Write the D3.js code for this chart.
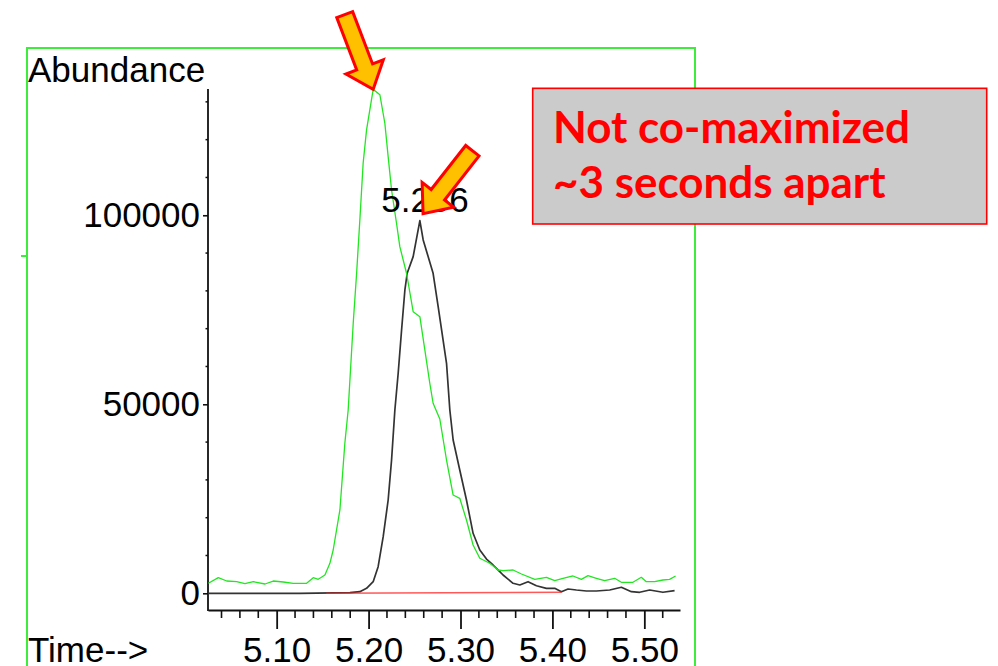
<!DOCTYPE html>
<html>
<head>
<meta charset="utf-8">
<script src="https://cdn.jsdelivr.net/npm/d3@7"></script>
<style>
  html, body { margin: 0; padding: 0; background: #fff; }
  svg { display: block; }
</style>
</head>
<body>
<svg id="chart" width="998" height="666"></svg>
<script>
// ---- data ----
const greenTime = [5.0257,5.0365,5.0457,5.0565,5.0655,5.0746,5.0873,5.0963,5.1072,5.1180,5.1326,5.1398,5.1452,5.1525,5.1579,5.1615,5.1688,5.1742,5.1778,5.1833,5.1870,5.1905,5.1941,5.1978,5.2050,5.2123,5.2177,5.2213,5.2250,5.2304,5.2340,5.2413,5.2485,5.2558,5.2612,5.2666,5.2702,5.2775,5.2848,5.2920,5.2992,5.3065,5.3137,5.3210,5.3318,5.3409,5.3463,5.3572,5.3663,5.3808,5.3935,5.4025,5.4115,5.4224,5.4315,5.4387,5.4478,5.4568,5.4677,5.4750,5.4876,5.4967,5.5022,5.5112,5.5202,5.5275,5.5340];
const greenAbund = [2650,4130,3250,3070,2540,3070,2460,3250,2990,2650,2650,4130,3700,4840,7940,11450,22040,39760,48490,71510,84740,98760,113840,122570,133300,131880,124340,115500,106690,97880,91690,84660,74500,73170,64370,55560,50270,46110,35260,26000,25130,19390,12780,9260,7940,6160,5980,6160,5110,3700,4230,3330,3970,4580,3700,4660,3970,3330,3970,2910,2910,4230,3070,3070,3520,3700,4580];

const blackTime = [5.0253,5.1253,5.1797,5.1905,5.1978,5.2050,5.2104,5.2159,5.2213,5.2250,5.2286,5.2322,5.2359,5.2395,5.2420,5.2485,5.2558,5.2594,5.2702,5.2757,5.2848,5.2884,5.2920,5.2992,5.3065,5.3137,5.3210,5.3283,5.3354,5.3427,5.3463,5.3572,5.3645,5.3735,5.3826,5.3935,5.4025,5.4098,5.4170,5.4261,5.4370,5.4478,5.4623,5.4750,5.4859,5.4949,5.5058,5.5202,5.5329];
const blackAbund = [0,0,160,420,1320,3070,7040,14970,24680,35270,48490,58200,69660,80240,84660,89050,98570,93470,84660,75820,60850,48490,40560,32620,24680,15870,11460,9070,7490,5710,4840,2650,2200,3070,2010,1320,1320,420,1140,870,610,610,870,1590,420,270,870,270,690];

const redTime = [5.154, 5.410];
const redAbund = [0, 270];

const peakTime = 5.256;
const peakAbund = 98570;
const peakLabel = "5.256";

const yMajorTicks = [0, 50000, 100000];
const yMinorTicks = [10000,20000,30000,40000,60000,70000,80000,90000,110000,120000,130000];
const xMajorTicks = [5.10, 5.20, 5.30, 5.40, 5.50];
const xMinorTicks = [5.04,5.06,5.08,5.12,5.14,5.16,5.18,5.22,5.24,5.26,5.28,5.32,5.34,5.36,5.38,5.42,5.44,5.46,5.48,5.52];

const yTitle = "Abundance";
const xTitle = "Time-->";
const noteLines = ["Not co-maximized", "~3 seconds apart"];

// ---- drawing ----
const svg = d3.select("#chart");
const FONT = "'Liberation Sans', Arial, sans-serif";

const x = d3.scaleLinear().domain([5.0253, 5.5388]).range([208, 680]);
const y = d3.scaleLinear().domain([0, 133400]).range([593.3, 89]);
const xAxisY = 610;

// green frame
const frameColor = "#3ced3c";
const frame = svg.append("g").attr("fill", "none").attr("stroke", frameColor).attr("stroke-width", 2);
frame.append("path").attr("d", "M27,666 L27,48 L695,48 L695,666");
frame.append("line").attr("x1", 21).attr("x2", 27).attr("y1", 256).attr("y2", 256);

// y axis
const yAxisG = svg.append("g").attr("transform", "translate(208,0)");
yAxisG.call(d3.axisLeft(y).tickValues(yMajorTicks).tickSize(5).tickPadding(3).tickSizeOuter(0).tickFormat(d3.format("d")));
yAxisG.select(".domain").remove();
yAxisG.append("line").attr("x1", 0).attr("x2", 0).attr("y1", y.range()[1]).attr("y2", xAxisY + 1)
  .attr("stroke", "#111").attr("stroke-width", 1.8);
yAxisG.selectAll(".minor").data(yMinorTicks).join("line").attr("class", "minor")
  .attr("x1", -2.5).attr("x2", 0).attr("y1", d => y(d)).attr("y2", d => y(d))
  .attr("stroke", "#111").attr("stroke-width", 1.5);
yAxisG.selectAll(".tick line").attr("stroke", "#111").attr("stroke-width", 1.6);
yAxisG.selectAll(".tick text").attr("font-family", FONT).attr("font-size", 35).attr("fill", "#000");

// x axis
const xAxisG = svg.append("g").attr("transform", `translate(0,${xAxisY})`);
xAxisG.call(d3.axisBottom(x).tickValues(xMajorTicks).tickSize(19).tickPadding(8).tickSizeOuter(0).tickFormat(d3.format(".2f")));
xAxisG.select(".domain").attr("stroke", "#111").attr("stroke-width", 1.8);
xAxisG.selectAll(".minor").data(xMinorTicks).join("line").attr("class", "minor")
  .attr("x1", d => x(d)).attr("x2", d => x(d)).attr("y1", 0).attr("y2", 8)
  .attr("stroke", "#111").attr("stroke-width", 1.6);
xAxisG.selectAll(".tick line").attr("stroke", "#111").attr("stroke-width", 1.8);
xAxisG.selectAll(".tick text").attr("font-family", FONT).attr("font-size", 35).attr("fill", "#000");

// titles
svg.append("text").attr("x", 28).attr("y", 82).attr("font-family", FONT).attr("font-size", 35).attr("fill", "#000").text(yTitle);
svg.append("text").attr("x", 28).attr("y", 662).attr("font-family", FONT).attr("font-size", 35).attr("fill", "#000").text(xTitle);

// traces
const line = d3.line().x(d => x(d[0])).y(d => y(d[1]));
const blackData = blackTime.map((t, i) => [t, blackAbund[i]]);
const greenData = greenTime.map((t, i) => [t, greenAbund[i]]);
const redData = redTime.map((t, i) => [t, redAbund[i]]);

svg.append("path").datum(blackData).attr("d", line).attr("fill", "none")
  .attr("stroke", "#333").attr("stroke-width", 1.7).attr("stroke-linejoin", "round");
svg.append("path").datum(redData).attr("d", line).attr("fill", "none")
  .attr("stroke", "#ff2020").attr("stroke-opacity", 0.75).attr("stroke-width", 1.6);
svg.append("path").datum(greenData).attr("d", line).attr("fill", "none")
  .attr("stroke", "#22e622").attr("stroke-width", 1.3).attr("stroke-linejoin", "round");

// peak label
svg.append("text").attr("x", x(peakTime) + 5).attr("y", y(peakAbund) - 9)
  .attr("text-anchor", "middle").attr("font-family", FONT).attr("font-size", 35).attr("fill", "#000")
  .text(peakLabel);

// arrows (tip at the apex of each trace)
function arrow(tipX, tipY, dx, dy) {
  const len = Math.hypot(dx, dy), ux = dx / len, uy = dy / len; // direction tail->tip
  const px = -uy, py = ux;
  const L = 80, HL = 24, SW = 8.5, HW = 20;
  const pts = [
    [-L, -SW], [-HL, -SW], [-HL, -HW], [0, 0], [-HL, HW], [-HL, SW], [-L, SW]
  ].map(([a, b]) => [tipX + ux * a + px * b, tipY + uy * a + py * b]);
  svg.append("path").attr("d", "M" + pts.map(p => p.join(",")).join("L") + "Z")
    .attr("fill", "#ffc000").attr("stroke", "#ff0000").attr("stroke-width", 3).attr("stroke-linejoin", "miter");
}
const gMaxIdx = d3.maxIndex(greenAbund);
arrow(x(greenTime[gMaxIdx]), y(greenAbund[gMaxIdx]), 28.3, 74.3);
arrow(x(peakTime) + 3, y(peakAbund) - 7, -49.2, 62.8);

// note box
const box = svg.append("g");
box.append("rect").attr("x", 532.7).attr("y", 88.3).attr("width", 454).attr("height", 135.7)
  .attr("fill", "#cbcbcb").attr("stroke", "#ff0000").attr("stroke-width", 1.6);
const t1 = box.append("text").attr("x", 553).attr("y", 142.7).attr("font-family", "Lato, 'Open Sans', sans-serif")
  .attr("font-weight", "bold").attr("font-size", 40).attr("fill", "#ff0000").text(noteLines[0]);
const w1 = t1.node().getComputedTextLength();
const fs = 40 * 357 / w1;
t1.attr("font-size", fs);
box.append("text").attr("x", 553).attr("y", 198.3).attr("font-family", "Lato, 'Open Sans', sans-serif")
  .attr("font-weight", "bold").attr("font-size", fs).attr("fill", "#ff0000").text(noteLines[1]);
</script>
</body>
</html>
